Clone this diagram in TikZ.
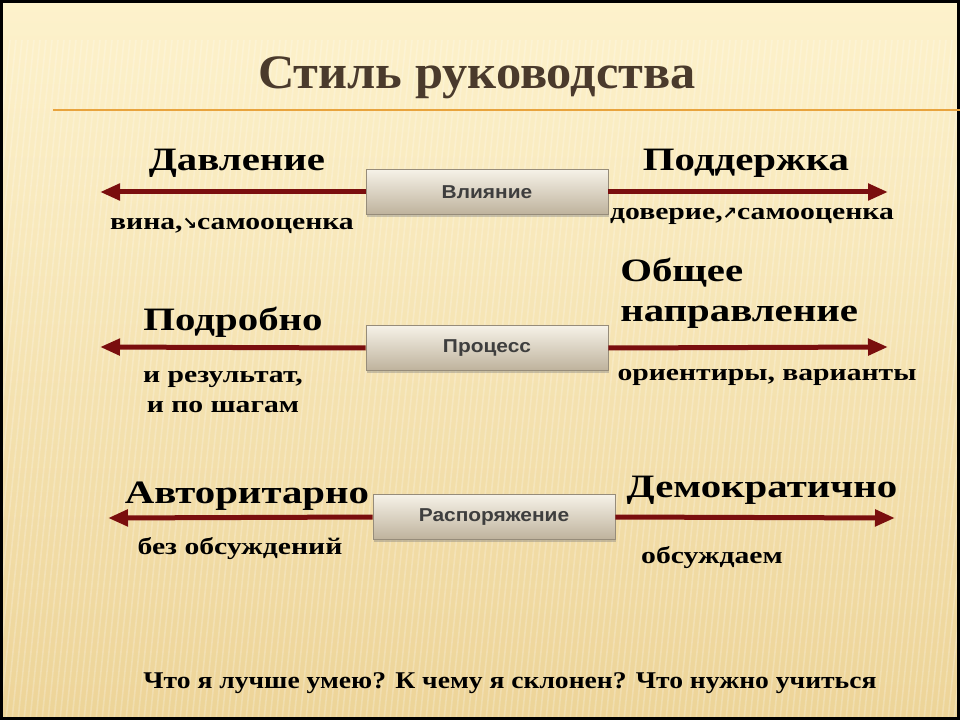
\documentclass[tikz,border=0pt]{standalone}
\usepackage{fontspec}
\setmainfont{Liberation Serif}
\newfontfamily\lblfont[FakeStretch=1.25]{Liberation Serif}
\newfontfamily\qfont[FakeStretch=1.15]{Liberation Serif}
\newfontfamily\ttlfont[FakeStretch=1.05]{Liberation Serif}
\newfontfamily\boxfont[FakeStretch=1.12]{Liberation Sans}
\newfontfamily\arrfont{DejaVu Sans}
\usetikzlibrary{positioning,shadows,arrows.meta}
\definecolor{mycream}{RGB}{253,242,204}
\definecolor{mysand}{RGB}{237,212,152}
\definecolor{myorange}{RGB}{232,163,61}
\definecolor{mybrown}{RGB}{74,58,44}
\definecolor{arrowred}{RGB}{122,14,14}
\definecolor{boxtop}{RGB}{246,242,232}
\definecolor{boxbot}{RGB}{190,178,156}
\definecolor{boxedge}{RGB}{150,140,122}
\definecolor{boxtext}{RGB}{62,62,62}

\begin{document}
\begin{tikzpicture}[x=0.75pt,y=-0.75pt,inner sep=0pt]
\tikzstyle{panel}=[rectangle, minimum width=181.5pt, minimum height=34pt, draw=boxedge, top color=boxtop, bottom color=boxbot, drop shadow={shadow xshift=1pt, shadow yshift=-2pt, opacity=0.4}, font=\boxfont\bfseries\fontsize{14}{16}\selectfont, text=boxtext]
\tikzstyle{big}=[font=\lblfont\bfseries\fontsize{24.5}{30}\selectfont]
\tikzstyle{small}=[font=\lblfont\bfseries\fontsize{17.8}{22}\selectfont, align=center]
\tikzstyle{connect}=[-{Triangle[length=15pt,width=12pt]}, line width=3.75pt, draw=arrowred]
\useasboundingbox (0,0) rectangle (960,720);
% slide background
\shade[top color=mycream, bottom color=mysand] (0,0) rectangle (960,720);
\begin{scope}
\clip (0,40) rectangle (960,720);
\foreach \i in {-60,-54,...,960}
  \draw[white, opacity=0.22, line width=1.2pt] (\i,720) -- (\i+70,40);
\end{scope}
\draw[line width=2.25pt] (1.5,1.5) rectangle (958.5,718.5);
\node[font=\ttlfont\bfseries\fontsize{36}{40}\selectfont, text=mybrown] (title) at (477,78) {Стиль руководства};
\coordinate (rule-l) at (53,110);
\coordinate (rule-r) at (960,110);
\draw[myorange, line width=1.5pt] (rule-l) -- (rule-r);
% row 1
\node[panel] (infl) at (487,192) {Влияние};
\coordinate (infl-l) at (100,192);
\coordinate (infl-r) at (888,192);
\path (infl.west) edge[connect] (infl-l);
\path (infl.east) edge[connect] (infl-r);
\node[big] (press) at (237,163) {Давление};
\node[small] (press-t) at (232,226) {вина,{\arrfont\bfseries\fontsize{13}{13}\selectfont ↘}самооценка};
\node[big] (supp) at (746,163) {Поддержка};
\node[small] (supp-t) at (752,216) {доверие,{\arrfont\bfseries\fontsize{13}{13}\selectfont ↗}самооценка};
% row 2
\node[panel] (proc) at (487,348) {Процесс};
\coordinate (proc-l) at (100,347);
\coordinate (proc-r) at (888,347);
\path (proc.west) edge[connect] (proc-l);
\path (proc.east) edge[connect] (proc-r);
\node[big] (detail) at (233,322) {Подробно};
\node[small] (detail-t) at (223,392) {и результат,\\ и по шагам};
\node[big, align=left, anchor=west] (gen) at (620,293) {Общее\\направление};
\node[small] (gen-t) at (767,377) {ориентиры, варианты};
% row 3
\node[panel] (order) at (494,517) {Распоряжение};
\coordinate (order-l) at (108,518);
\coordinate (order-r) at (895,518);
\path (order.west) edge[connect] (order-l);
\path (order.east) edge[connect] (order-r);
\node[big] (auth) at (247,496) {Авторитарно};
\node[small] (auth-t) at (240,549) {без обсуждений};
\node[big] (demo) at (762,490) {Демократично};
\node[small] (demo-t) at (712,558) {обсуждаем};
% question line
\node[font=\qfont\bfseries\fontsize{18}{22}\selectfont] (quest) at (510,683) {Что я лучше умею? К чему я склонен? Что нужно учиться};
\end{tikzpicture}
\end{document}
